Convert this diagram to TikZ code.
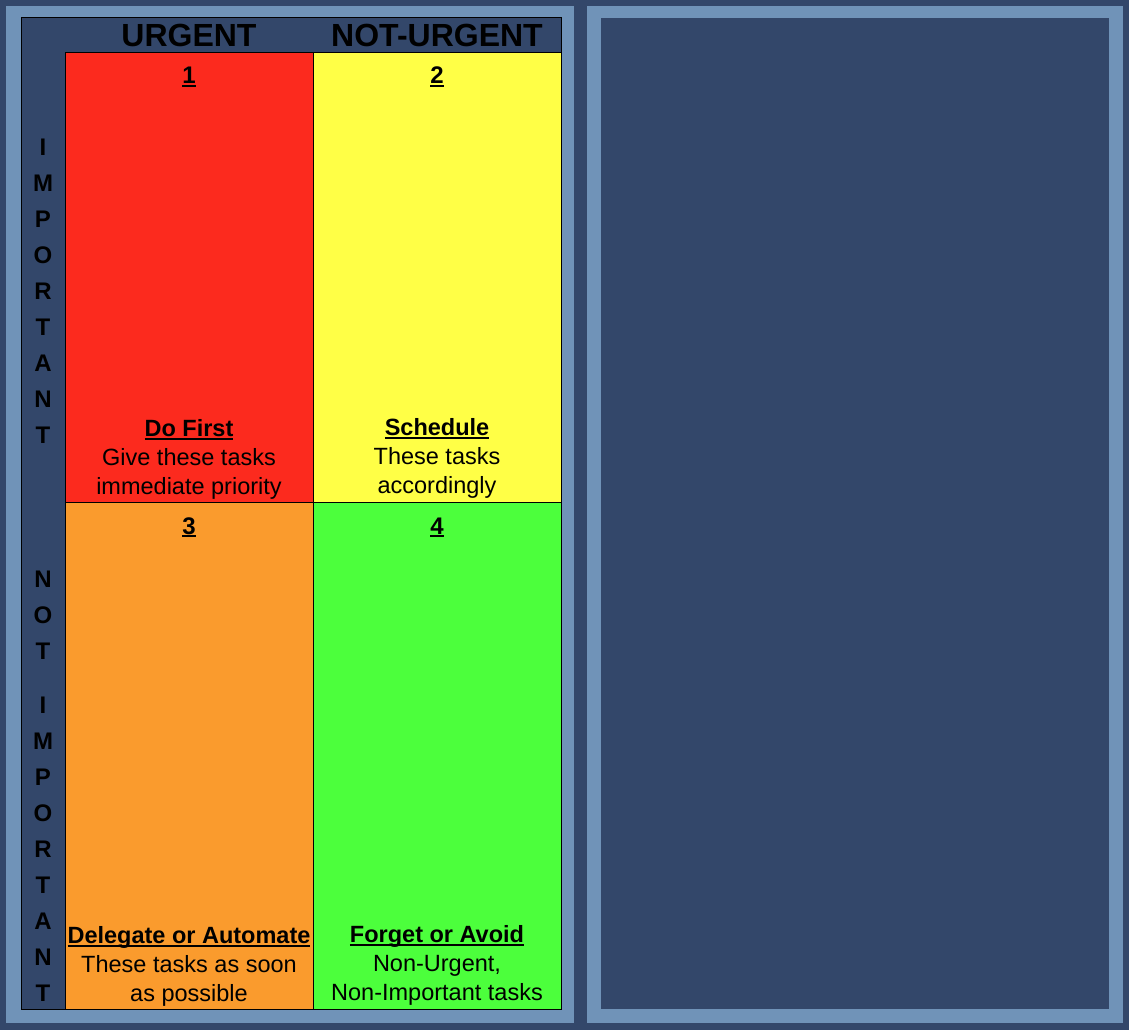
\documentclass[tikz,border=0pt]{standalone}
\usepackage{fontspec}
\setmainfont{Liberation Sans}
\usepackage{xcolor}
\usetikzlibrary{positioning}
\definecolor{navy}{HTML}{33476A}
\definecolor{frameblue}{HTML}{7093B8}
\definecolor{qred}{HTML}{FC2A1E}
\definecolor{qyellow}{HTML}{FFFF46}
\definecolor{qorange}{HTML}{FA9B2D}
\definecolor{qgreen}{HTML}{4CFF3C}
\newcommand{\ulbf}[1]{{\bfseries\setbox0=\hbox{#1}\rlap{\rule[-3pt]{\wd0}{1.6pt}}\box0}}

\begin{document}
\begin{tikzpicture}[x=1pt,y=-1pt,
    quad/.style={draw=black,line width=0.8pt,minimum width=248pt,
      inner sep=0pt,outer sep=0pt},
    head/.style={font=\fontsize{32}{38}\selectfont\bfseries,inner sep=0pt,anchor=base},
    num/.style={font=\fontsize{24}{29}\selectfont,inner sep=0pt,anchor=base},
    note/.style={font=\fontsize{23.5}{29}\selectfont,align=center,inner sep=0pt,anchor=south},
    side/.style={font=\fontsize{24}{29}\selectfont\bfseries,inner sep=0pt,anchor=base}
  ]
    \fill[navy] (0,0) rectangle (1129,1030);
    \useasboundingbox (0,0) rectangle (1129,1030);
    % panels
    \fill[frameblue] (6,6) rectangle (574,1023);
    \filldraw[fill=navy,draw=black,line width=1pt] (21,18) rectangle (561,1009);
    \fill[frameblue] (587,6) rectangle (1123,1023);
    \fill[navy] (601,18) rectangle (1109,1009);
    % quadrants
    \node[quad,fill=qred,minimum height=450pt,anchor=north west] (q1) at (65,52) {};
    \node[quad,fill=qyellow,minimum height=450pt,right=0pt of q1] (q2) {};
    \node[quad,fill=qorange,minimum height=507pt,below=0pt of q1] (q3) {};
    \node[quad,fill=qgreen,minimum height=507pt,right=0pt of q3] (q4) {};
    % headings
    \node[head] (urgent) at ([yshift=5pt]q1.north) {URGENT};
    \node[head] (noturgent) at ([yshift=5pt]q2.north) {NOT-URGENT};
    \foreach \ch [count=\i] in {I,M,P,O,R,T,A,N,T}
      \node[side] (imp\i) at (43,119+36*\i) {\ch};
    \foreach \ch [count=\i] in {N,O,T}
      \node[side] (not\i) at (43,551+36*\i) {\ch};
    \foreach \ch [count=\i] in {I,M,P,O,R,T,A,N,T}
      \node[side] (nimp\i) at (43,677+36*\i) {\ch};
    % numbers
    \node[num] (n1) at ([yshift=-32pt]q1.north) {\ulbf{1}};
    \node[num] (n2) at ([yshift=-32pt]q2.north) {\ulbf{2}};
    \node[num] (n3) at ([yshift=-32pt]q3.north) {\ulbf{3}};
    \node[num] (n4) at ([yshift=-32pt]q4.north) {\ulbf{4}};
    % actions
    \node[note] (t1) at ([yshift=2pt]q1.south) {\ulbf{Do First}\\Give these tasks\\immediate priority};
    \node[note] (t2) at ([yshift=3pt]q2.south) {\ulbf{Schedule}\\These tasks\\accordingly};
    \node[note] (t3) at ([yshift=2pt]q3.south) {\ulbf{Delegate or Automate}\\These tasks as soon\\as possible};
    \node[note] (t4) at ([yshift=3pt]q4.south) {\ulbf{Forget or Avoid}\\Non-Urgent,\\Non-Important tasks};
\end{tikzpicture}
\end{document}
